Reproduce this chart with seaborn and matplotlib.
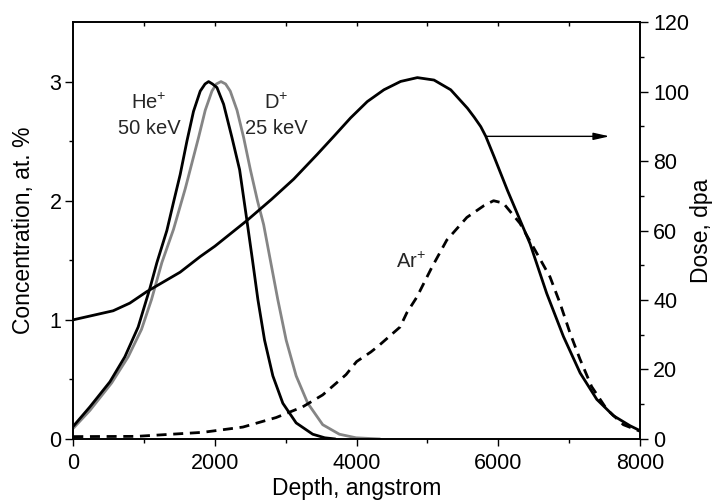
import matplotlib
matplotlib.use("Agg")
import matplotlib.pyplot as plt
import seaborn as sns
import numpy as np

# ---- data ----
he_x = [0, 235, 517, 728, 916, 1033, 1084, 1180, 1321, 1420, 1509, 1604, 1697, 1792, 1860, 1910,
        1965, 2028, 2122, 2240, 2348, 2440, 2530, 2606, 2700, 2817, 2958, 3146, 3380, 3550, 3700]
he_y = [0.107, 0.27, 0.48, 0.69, 0.94, 1.17, 1.27, 1.48, 1.75, 2.00, 2.22, 2.50, 2.75, 2.92, 2.98, 3.00,
        2.98, 2.95, 2.81, 2.53, 2.26, 1.88, 1.50, 1.17, 0.83, 0.53, 0.30, 0.135, 0.04, 0.01, 0.0]

d_x = [0, 235, 541, 775, 963, 1104, 1250, 1415, 1580, 1650, 1768, 1863, 1957, 2020, 2085, 2150,
       2216, 2311, 2405, 2500, 2600, 2687, 2782, 2887, 3005, 3146, 3310, 3521, 3756, 3991, 4330]
d_y = [0.09, 0.24, 0.47, 0.69, 0.92, 1.17, 1.48, 1.76, 2.10, 2.26, 2.53, 2.76, 2.92, 2.98, 3.00, 2.98,
       2.92, 2.76, 2.53, 2.26, 2.00, 1.80, 1.50, 1.17, 0.83, 0.53, 0.30, 0.12, 0.04, 0.01, 0.0]

ar_x = [0, 892, 1831, 2394, 2864, 3239, 3521, 3850, 4000, 4200, 4306, 4613, 4709, 4849, 5061,
        5273, 5556, 5800, 5933, 6070, 6306, 6542, 6730, 6871, 7012, 7153, 7317, 7530, 7765, 8000]
ar_y = [0.02, 0.022, 0.056, 0.10, 0.18, 0.27, 0.37, 0.54, 0.65, 0.73, 0.78, 0.94, 1.06, 1.19, 1.44,
        1.67, 1.86, 1.96, 2.00, 1.98, 1.81, 1.56, 1.36, 1.14, 0.89, 0.67, 0.44, 0.25, 0.12, 0.065]

dose_x = [0, 282, 563, 798, 1037, 1508, 1792, 2000, 2453, 2800, 3112, 3443, 3678, 3914, 4150,
          4385, 4621, 4857, 5092, 5328, 5564, 5660, 5752, 5823, 5941, 6130, 6448, 6683, 6919, 7155,
          7390, 7625, 7860, 8000]
dose_y = [34.3, 35.6, 36.9, 39.1, 42.4, 48.0, 52.5, 55.5, 62.9, 69.0, 74.8, 81.9, 87.1, 92.4, 97.1,
          100.5, 102.9, 104.0, 103.3, 100.5, 95.2, 92.6, 89.9, 87.1, 81.2, 71.5, 56.2, 41.9, 29.5, 19.0,
          11.4, 6.7, 3.8, 2.4]

x_ticks = [0, 2000, 4000, 6000, 8000]
left_ticks = [0, 1, 2, 3]
right_ticks = [0, 20, 40, 60, 80, 100, 120]

# ---- style ----
sns.set_theme(style="ticks")
plt.rcParams["font.family"] = ["Liberation Sans", "DejaVu Sans"]
plt.rcParams["mathtext.fontset"] = "custom"
plt.rcParams["mathtext.rm"] = "Liberation Sans"

fig = plt.figure(figsize=(7.15, 5.04), dpi=100)
ax = fig.add_axes([0.1025, 0.129, 0.7926, 0.8273])
ax2 = ax.twinx()

lw = 2.0
gray = "#858585"
sns.lineplot(x=d_x, y=d_y, ax=ax, color=gray, lw=lw, sort=False)
sns.lineplot(x=he_x, y=he_y, ax=ax, color="black", lw=lw, sort=False)
sns.lineplot(x=ar_x, y=ar_y, ax=ax, color="black", lw=lw, sort=False,
             linestyle=(0, (3.6, 2.4)))
sns.lineplot(x=dose_x, y=dose_y, ax=ax2, color="black", lw=lw, sort=False)

ax.set_xlim(0, 8000)
ax.set_ylim(0, 3.5)
ax2.set_ylim(0, 120)

ax.set_xticks(x_ticks)
ax.set_xticks(np.arange(1000, 8000, 2000), minor=True)
ax.set_yticks(left_ticks)
ax.set_yticks([0.5, 1.5, 2.5], minor=True)
ax2.set_yticks(right_ticks)
ax2.set_yticks(np.arange(10, 120, 20), minor=True)

tfs_ticks = 15.5
fs = 16.5
ax.tick_params(axis="x", which="major", labelsize=tfs_ticks, direction="out", length=5, width=1,
               color="black", labelcolor="black", pad=5)
ax.tick_params(axis="y", which="major", labelsize=tfs_ticks, direction="out", length=6, width=1,
               color="black", labelcolor="black", pad=2.5)
ax.tick_params(axis="both", which="minor", direction="out", length=3, width=1, color="black")
ax2.tick_params(axis="y", which="major", labelsize=tfs_ticks, direction="out", length=5.5, width=1,
                color="black", labelcolor="black", pad=4)
ax2.tick_params(axis="y", which="minor", direction="out", length=3, width=1, color="black")

# top ticks pointing inward
secx = ax.secondary_xaxis("top")
secx.set_xticks(np.arange(1000, 8000, 1000))
secx.tick_params(direction="in", length=3, width=1, labeltop=False, color="black")
secx.spines["top"].set_visible(False)

for a in (ax, ax2):
    for s in a.spines.values():
        s.set_color("black")
        s.set_linewidth(1.2)

ax.set_xlabel("Depth, angstrom", fontsize=fs, color="black")
ax.xaxis.set_label_coords(0.5, -0.092)
ax.set_ylabel("Concentration, at. %", fontsize=fs, color="black")
ax.yaxis.set_label_coords(-0.068, 0.5)
ax2.set_ylabel("Dose, dpa", fontsize=fs, color="black")
ax2.yaxis.set_label_coords(1.089, 0.5)

# labels
tfs = 14.5
ax.text(1070, 2.82, r"He$^{+}$", fontsize=tfs, ha="center", va="center")
ax.text(1070, 2.61, "50 keV", fontsize=tfs, ha="center", va="center")
ax.text(2870, 2.82, r"D$^{+}$", fontsize=tfs, ha="center", va="center")
ax.text(2870, 2.61, "25 keV", fontsize=tfs, ha="center", va="center")
ax.text(4760, 1.49, r"Ar$^{+}$", fontsize=tfs, ha="center", va="center")

ax2.annotate("", xy=(7570, 87.1), xytext=(5823, 87.1),
             arrowprops=dict(arrowstyle="-|>,head_length=0.8,head_width=0.18",
                             color="black", lw=1.0, shrinkA=0, shrinkB=0))

fig.savefig("out.png", dpi=100)
